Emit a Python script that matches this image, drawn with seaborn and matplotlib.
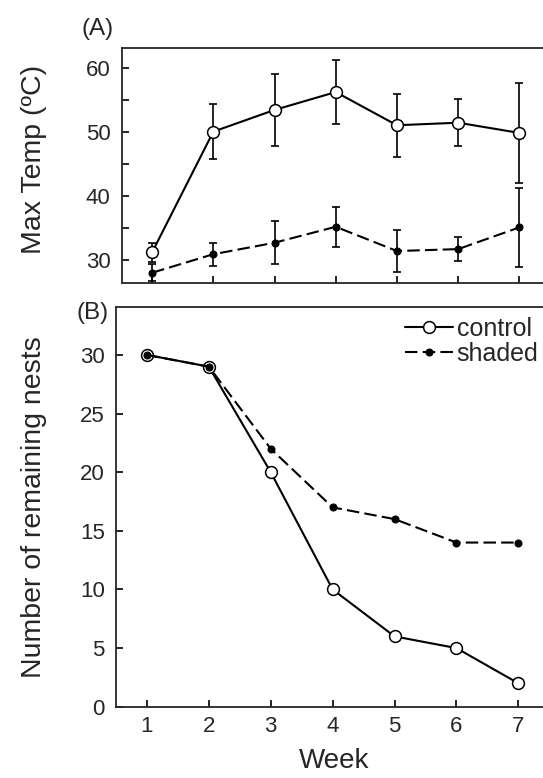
import matplotlib
matplotlib.use("Agg")
import matplotlib.pyplot as plt
from matplotlib.ticker import MultipleLocator
import seaborn as sns

# Weekly nest temperature (mean ± SD) and nest survival for control vs shaded nests
weeks = [1, 2, 3, 4, 5, 6, 7]
control_temp = [31.2, 50.1, 53.5, 56.3, 51.1, 51.5, 49.9]
control_temp_err = [1.5, 4.3, 5.7, 5.0, 4.9, 3.7, 7.8]
shaded_temp = [28.0, 30.9, 32.7, 35.2, 31.4, 31.7, 35.1]
shaded_temp_err = [1.3, 1.8, 3.4, 3.1, 3.3, 1.9, 6.2]
control_nests = [30, 29, 20, 10, 6, 5, 2]
shaded_nests = [30, 29, 22, 17, 16, 14, 14]
series_labels = ["control", "shaded"]

sns.set_style("ticks")
plt.rcParams["font.family"] = ["Liberation Sans", "DejaVu Sans"]
plt.rcParams["axes.linewidth"] = 1.3

DASH = (0, (6, 2.5))
ctrl_style = dict(color="black", linewidth=1.5, marker="o", markersize=8.5,
                  markerfacecolor="white", markeredgecolor="black",
                  markeredgewidth=1.1)
shade_style = dict(color="black", linewidth=1.5, linestyle=DASH, marker="o",
                   markersize=5, markerfacecolor="black",
                   markeredgecolor="black", markeredgewidth=0.8)

fig = plt.figure(figsize=(5.43, 7.78), dpi=100)
ax1 = fig.add_axes([0.2238, 0.6359, 0.789, 0.3024])
ax2 = fig.add_axes([0.2136, 0.0916, 0.798, 0.514])

# (A) maximum temperature with error bars
err_kw = dict(fmt="none", ecolor="black", elinewidth=1.2, capsize=2.8,
              capthick=1.2, zorder=1)
ax1.errorbar(weeks, control_temp, yerr=control_temp_err, **err_kw)
ax1.errorbar(weeks, shaded_temp, yerr=shaded_temp_err, **err_kw)
sns.lineplot(x=weeks, y=shaded_temp, ax=ax1, zorder=2, **shade_style)
sns.lineplot(x=weeks, y=control_temp, ax=ax1, zorder=3, **ctrl_style)

ax1.set_xlim(0.5, 7.5)
ax1.set_ylim(26.35, 63.2)
ax1.set_xticks(weeks)
ax1.yaxis.set_major_locator(MultipleLocator(10))
ax1.yaxis.set_minor_locator(MultipleLocator(5))
ax1.tick_params(axis="x", labelbottom=False)
ax1.set_xlabel("")
ax1.set_ylabel("Max Temp (ºC)", fontsize=20.5)
ax1.yaxis.set_label_coords(-0.174, 0.528)

# (B) remaining nests
sns.lineplot(x=weeks, y=control_nests, ax=ax2, zorder=2,
             label=series_labels[0], **ctrl_style)
sns.lineplot(x=weeks, y=shaded_nests, ax=ax2, zorder=3,
             label=series_labels[1], **shade_style)

ax2.set_xlim(0.5, 7.5)
ax2.set_ylim(0, 34.1)
ax2.set_xticks(weeks)
ax2.set_yticks(range(0, 31, 5))
ax2.set_xlabel("Week", fontsize=20)
ax2.set_ylabel("Number of remaining nests", fontsize=20.5)
ax2.yaxis.set_label_coords(-0.159, 0.499)
ax2.xaxis.set_label_coords(0.503, -0.102)

ax2.legend(loc="upper right", bbox_to_anchor=(0.975, 0.975), frameon=False,
           fontsize=18, borderpad=0, borderaxespad=0, handlelength=1.9,
           handletextpad=0.15, labelspacing=0.05)

for ax in (ax1, ax2):
    ax.spines["right"].set_visible(False)
    ax.spines["top"].set_visible(True)
    for s in ax.spines.values():
        s.set_linewidth(1.3)
    ax.tick_params(which="both", direction="in", length=5, width=1.2,
                   labelsize=16, color="black")
    ax.tick_params(axis="y", which="both", pad=8)
    ax.tick_params(axis="x", pad=7)

fig.text(0.1505, 0.9627, "(A)", fontsize=17.5, ha="left", va="center")
fig.text(0.1412, 0.5977, "(B)", fontsize=17.5, ha="left", va="center")

fig.savefig("out.png", dpi=100)
